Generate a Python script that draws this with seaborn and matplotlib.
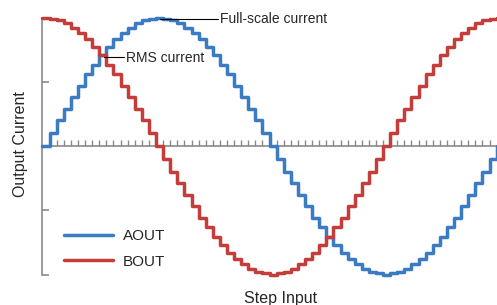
import pandas as pd
import matplotlib
matplotlib.use("Agg")
import matplotlib.pyplot as plt
import seaborn as sns

# ----------------------------------------------------
# DATA (1/16 microstep current table)
# ----------------------------------------------------

steps = list(range(66))

aout = [
    0.00, 0.10, 0.20, 0.29, 0.38, 0.47, 0.56, 0.63, 0.71, 0.77, 0.83, 0.88, 0.92, 0.96, 0.98, 0.99,
    1.00, 0.99, 0.98, 0.96, 0.92, 0.88, 0.83, 0.77, 0.71, 0.63, 0.56, 0.47, 0.38, 0.29, 0.20, 0.10,
    0.00, -0.10, -0.20, -0.29, -0.38, -0.47, -0.56, -0.63, -0.71, -0.77, -0.83, -0.88, -0.92, -0.96, -0.98, -0.99,
    -1.00, -0.99, -0.98, -0.96, -0.92, -0.88, -0.83, -0.77, -0.71, -0.63, -0.56, -0.47, -0.38, -0.29, -0.20, -0.10,
    0.00, 0.10,
]

bout = [
    1.00, 0.99, 0.98, 0.96, 0.92, 0.88, 0.83, 0.77, 0.71, 0.63, 0.56, 0.47, 0.38, 0.29, 0.20, 0.10,
    0.00, -0.10, -0.20, -0.29, -0.38, -0.47, -0.56, -0.63, -0.71, -0.77, -0.83, -0.88, -0.92, -0.96, -0.98, -0.99,
    -1.00, -0.99, -0.98, -0.96, -0.92, -0.88, -0.83, -0.77, -0.71, -0.63, -0.56, -0.47, -0.38, -0.29, -0.20, -0.10,
    0.00, 0.10, 0.20, 0.29, 0.38, 0.47, 0.56, 0.63, 0.71, 0.77, 0.83, 0.88, 0.92, 0.96, 0.98, 0.99,
    1.00, 0.99,
]

series_names = ["AOUT", "BOUT"]
series_colors = ["#3a7bc3", "#c53d3a"]
y_ticks = [-1.0, -0.5, 0.0, 0.5, 1.0]
grid_steps = steps[1:64]

GREY = "#8a8a8a"

# ----------------------------------------------------
# PLOT
# ----------------------------------------------------

sns.set_style("white")
plt.rcParams["font.family"] = ["Liberation Sans", "DejaVu Sans"]

fig = plt.figure(figsize=(4.97, 3.05), dpi=100)
ax = fig.add_axes([0.0855, 0.1, 0.9145, 0.8426])

df = pd.DataFrame({"step": steps, "AOUT": aout, "BOUT": bout})
for name, color in zip(series_names, series_colors):
    sns.lineplot(data=df, x="step", y=name, ax=ax, color=color, lw=2.5,
                 drawstyle="steps-post", label=name, clip_on=False, zorder=3)

ax.set_xlim(0, 64.05)
ax.set_ylim(-1, 1)

# zero line with one small tick per step
ax.axhline(0, color=GREY, lw=1.2, zorder=1)
ax.vlines(grid_steps, 0, 0.045, color=GREY, lw=1.0, zorder=1)

for side in ["top", "right", "bottom"]:
    ax.spines[side].set_visible(False)
ax.spines["left"].set_color(GREY)
ax.spines["left"].set_linewidth(1.2)
ax.set_xticks([])
ax.set_yticks(y_ticks)
ax.tick_params(axis="y", direction="in", length=5, width=1.2, color=GREY,
               labelleft=False, left=True)
ax.set_xlabel("")
ax.set_ylabel("")

# annotations
ax.plot([16.5, 24.7], [0.99, 0.99], color="black", lw=0.8, zorder=4)
ax.text(25.0, 0.985, "Full-scale current", fontsize=10, va="center", ha="left")
ax.plot([8.7, 11.5], [0.693, 0.693], color="black", lw=0.8, zorder=4)
ax.text(11.8, 0.685, "RMS current", fontsize=10, va="center", ha="left")

ax.legend(loc="center left", bbox_to_anchor=(0.1288, 0.1836),
          bbox_transform=fig.transFigure, frameon=False, fontsize=11,
          handlelength=3.2, handletextpad=0.65, labelspacing=0.75,
          borderpad=0, borderaxespad=0)

fig.text(280.5 / 497, 1 - 303.3 / 305, "Step Input", fontsize=11.5,
         ha="center", va="baseline")
fig.text(25.5 / 497, 1 - 144 / 305, "Output Current", fontsize=11.5,
         rotation=90, rotation_mode="anchor", ha="center", va="baseline")

fig.savefig("out.png", dpi=100)
